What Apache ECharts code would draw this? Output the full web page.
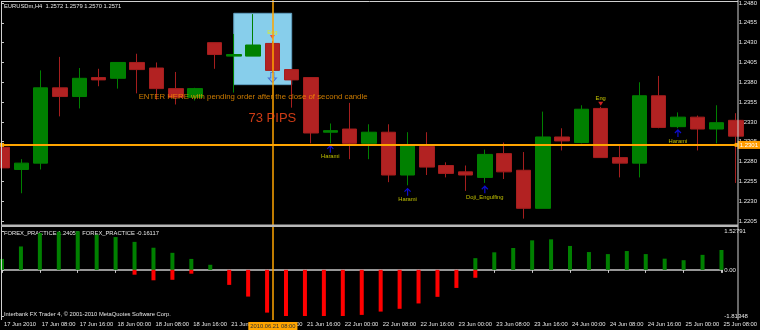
<!DOCTYPE html>
<html><head><meta charset="utf-8">
<script src="https://cdn.jsdelivr.net/npm/echarts@6/dist/echarts.min.js"></script>
<style>html,body{margin:0;padding:0;background:#000}#c{width:760px;height:330px}</style>
</head><body><div id="c"></div>
<script>
// ---------- data ----------
const symbolTitle = 'EURUSDm,H4  1.2572 1.2579 1.2570 1.2571';
const indicatorTitle = 'FOREX_PRACTICE 1.24052  FOREX_PRACTICE -0.16117';
const copyrightText = 'Interbank FX Trader 4, \u00a9 2001-2010 MetaQuotes Software Corp.';

// one label every second H4 bar
const timeLabels = ['17 Jun 2010','17 Jun 08:00','17 Jun 16:00','18 Jun 00:00','18 Jun 08:00','18 Jun 16:00',
  '21 Jun 00:00','21 Jun 08:00','21 Jun 16:00','22 Jun 00:00','22 Jun 08:00','22 Jun 16:00',
  '23 Jun 00:00','23 Jun 08:00','23 Jun 16:00','24 Jun 00:00','24 Jun 08:00','24 Jun 16:00',
  '25 Jun 00:00','25 Jun 08:00'];

const opens  = [1.2298,1.2270,1.2278,1.2373,1.2362,1.2386,1.2385,1.2405,1.2398,1.2372,1.2361,1.2430,1.2413,1.2413,1.2429,1.2396,1.2386,1.2317,1.2321,1.2303,1.2317,1.2263,1.2299,1.2275,1.2267,1.2260,1.2290,1.2269,1.2221,1.2311,1.2304,1.2347,1.2285,1.2278,1.2363,1.2324,1.2336,1.2321,1.2332];
const closes = [1.2272,1.2278,1.2373,1.2362,1.2385,1.2383,1.2405,1.2396,1.2372,1.2361,1.2372,1.2415,1.2415,1.2427,1.2395,1.2383,1.2316,1.2319,1.2303,1.2317,1.2263,1.2300,1.2273,1.2265,1.2263,1.2289,1.2267,1.2221,1.2311,1.2306,1.2346,1.2285,1.2278,1.2363,1.2323,1.2336,1.2321,1.2329,1.2312];
const lows   = [1.2258,1.2240,1.2270,1.2337,1.2347,1.2375,1.2372,1.2366,1.2358,1.2352,1.2357,1.2397,1.2367,1.2413,1.2392,1.2348,1.2303,1.2303,1.2283,1.2283,1.2254,1.2250,1.2263,1.2260,1.2243,1.2253,1.2258,1.2208,1.2221,1.2294,1.2303,1.2285,1.2260,1.2260,1.2322,1.2322,1.2294,1.2303,1.2253];
const highs  = [1.2303,1.2283,1.2395,1.2412,1.2398,1.2397,1.2405,1.2416,1.2405,1.2393,1.2373,1.2430,1.2441,1.2466,1.2432,1.2396,1.2386,1.2328,1.2354,1.2327,1.2327,1.2317,1.2317,1.2279,1.2275,1.2295,1.2304,1.2292,1.2343,1.2322,1.2351,1.2349,1.2302,1.2380,1.2388,1.2342,1.2338,1.2351,1.2341];

// FOREX_PRACTICE histogram buffers
const histUp   = [0.43,0.92,1.45,1.50,1.52,1.38,1.29,1.10,0.87,0.67,0.43,0.20,
  0,0,0,0,0,0,0,0,0,0,0,0,0,
  0.46,0.69,0.86,1.16,1.20,0.94,0.70,0.62,0.74,0.62,0.44,0.38,0.59,0.78];
const histDown = [null,null,null,null,null,null,null,-0.04,-0.26,-0.24,0.0,null,
  -0.44,-0.90,-1.53,-1.81,-1.75,-1.81,-1.68,-1.62,-1.49,-1.38,-1.17,-0.91,-0.56,-0.16,
  null,null,null,null,null,null,null,null,null,null,null,null,null];

const priceMin = 1.2205, priceMax = 1.2480, priceStep = 0.0025;
const indMin = -1.81348, indMax = 1.52791;
const xMax = 38.04;                 // visible bar range
const bidPrice = 1.2301;
const crossBar = 14, crossLabel = '2010.06.21 08:00';
const boxBars = [12, 15], boxPrices = [1.2467, 1.2377];
const patternBars = [17, 21, 25, 35];
const patternPrices = [1.2296, 1.2242, 1.2245, 1.2316];
const patternNames = ['Harami', 'Harami', 'Doji_Engulfing', 'Harami'];
const engBars = [14, 31], engPrices = [1.2437, 1.2353];
const sellBars = [14], sellPrices = [1.2386];
const noteTexts = ['ENTER HERE with pending order after the close of second candle', '73 PIPS'];
const noteBars = [13, 14], notePrices = [1.2362, 1.2334];

// ---------- chart ----------
const FONT = 'Liberation Sans, Arial, sans-serif';
const TXT = '#e6e6e6';
const redBase = 0.15;
const noteStyles = [{color: '#ff9a00', fontSize: 7.8}, {color: '#ff4a1a', fontSize: 13}];

const candleData = opens.map((o, i) => [i, o, closes[i], lows[i], highs[i]]);
const chart = echarts.init(document.getElementById('c'));

const upArrow = 'path://M0,4 L4,0 L8,4 L7,5 L4.7,2.7 L4.7,9 L3.3,9 L3.3,2.7 L1,5 Z';
const downTri = 'path://M0,0 L8,0 L4,6 Z';
const hollowDown = 'path://M3,0 L7,0 L7,6 L10,6 L5,11 L0,6 L3,6 Z';

chart.setOption({
  backgroundColor: '#000000',
  animation: false,
  textStyle: {fontFamily: FONT},
  title: [
    {text: symbolTitle, left: 4, top: 3, padding: 0, z: 0, textStyle: {color: TXT, fontSize: 5.8, fontWeight: 'normal', fontFamily: FONT}},
    {text: indicatorTitle, left: 4, top: 230, padding: 0, z: 0, textStyle: {color: TXT, fontSize: 5.8, fontWeight: 'normal', fontFamily: FONT}},
    {text: copyrightText, left: 4, top: 311, padding: 0, z: 0, textStyle: {color: TXT, fontSize: 5.8, fontWeight: 'normal', fontFamily: FONT}}
  ],
  grid: [
    {left: 2, right: 22, top: 2, height: 219},
    {left: 2, right: 22, top: 231, height: 85},
    {left: 2, right: 22, top: 0, height: 320}
  ],
  xAxis: [
    {type: 'value', gridIndex: 0, min: 0, max: xMax, show: false},
    {type: 'value', gridIndex: 1, min: 0, max: xMax, interval: 2, offset: 3,
     axisLine: {show: true, lineStyle: {color: '#c8c8c8', width: 1.5}},
     axisTick: {show: true, length: 3, lineStyle: {color: '#c8c8c8'}},
     splitLine: {show: false},
     axisLabel: {show: true, showMinLabel: true, showMaxLabel: true, align: 'left', margin: 2, padding: [0, 0, 0, 2],
       color: TXT, fontSize: 5.8, fontFamily: FONT,
       formatter: v => (Math.abs(v - Math.round(v)) < 1e-6 && Math.round(v) % 2 === 0) ? (timeLabels[Math.round(v) / 2] || '') : ''}},
    {type: 'value', gridIndex: 2, min: 0, max: xMax, show: false}
  ],
  yAxis: [
    {type: 'value', gridIndex: 0, position: 'right', min: priceMin, max: priceMax, interval: priceStep,
     axisLine: {show: false}, splitLine: {show: false},
     axisTick: {show: true, length: 2, lineStyle: {color: '#c8c8c8'}},
     axisLabel: {show: true, showMinLabel: true, showMaxLabel: true, margin: 2, color: TXT, fontSize: 6, fontFamily: FONT,
       formatter: v => v.toFixed(4)}},
    {type: 'value', gridIndex: 1, position: 'right', min: indMin, max: indMax,
     axisLine: {show: false}, splitLine: {show: false},
     axisTick: {show: true, length: 2, customValues: [indMax, 0, indMin], lineStyle: {color: '#c8c8c8'}},
     axisLabel: {show: true, customValues: [indMax, 0, indMin], margin: 2, color: TXT, fontSize: 6, fontFamily: FONT,
       formatter: v => Math.abs(v) < 1e-9 ? '0.00' : v.toFixed(5)}},
    {type: 'value', gridIndex: 2, min: 0, max: 1, show: false}
  ],
  graphic: [
    {type: 'line', shape: {x1: 1, y1: 1.5, x2: 738, y2: 1.5}, style: {stroke: '#d0d0d0', lineWidth: 1}, z: 10},
    {type: 'line', shape: {x1: 1.5, y1: 1, x2: 1.5, y2: 320}, style: {stroke: '#d0d0d0', lineWidth: 1}, z: 10},
    {type: 'line', shape: {x1: 738, y1: 0, x2: 738, y2: 320}, style: {stroke: '#d0d0d0', lineWidth: 1}, z: 10},
    {type: 'rect', shape: {x: 1, y: 224.5, width: 737, height: 2.5}, style: {fill: '#b8b8b8'}, z: 10}
  ],
  series: [
    {
      type: 'candlestick', xAxisIndex: 0, yAxisIndex: 0, z: 2,
      data: candleData, barWidth: 15, clip: true,
      itemStyle: {color: '#008000', color0: '#b22222', borderColor: '#008000', borderColor0: '#a51e1e', borderWidth: 1},
      markArea: {
        silent: true, z: 1,
        label: {show: false},
        itemStyle: {color: '#87ceeb', opacity: 1, borderColor: '#5f9fc0', borderWidth: 1},
        data: [[{xAxis: boxBars[0], yAxis: boxPrices[0]}, {xAxis: boxBars[1], yAxis: boxPrices[1]}]]
      },
      markLine: {
        silent: true, symbol: ['rect', 'rect'], symbolSize: 4, precision: 4,
        lineStyle: {color: '#ffa500', width: 2, type: 'solid'},
        label: {show: true, position: 'end', distance: 1, formatter: () => bidPrice.toFixed(4),
          backgroundColor: '#ff9c00', color: '#ffffff', fontSize: 6, fontFamily: FONT, padding: [1, 2, 1, 2]},
        data: [{yAxis: bidPrice}]
      }
    },
    {
      type: 'scatter', xAxisIndex: 0, yAxisIndex: 0, z: 4,
      data: patternBars.map((b, i) => ({value: [b, patternPrices[i]], name: patternNames[i]})),
      symbol: upArrow, symbolSize: [7, 8], itemStyle: {color: '#1010ff'},
      label: {show: true, position: 'bottom', distance: 1, formatter: '{b}', color: '#e6e600', fontSize: 5.8, fontFamily: FONT}
    },
    {
      type: 'scatter', xAxisIndex: 0, yAxisIndex: 0, z: 4,
      data: engBars.map((b, i) => ({value: [b, engPrices[i]], name: 'Eng'})),
      symbol: downTri, symbolSize: [5, 4], itemStyle: {color: '#ff2a2a'},
      label: {show: true, position: 'top', distance: 0, formatter: '{b}', color: '#f0f000', fontSize: 5.8, fontFamily: FONT}
    },
    {
      type: 'scatter', xAxisIndex: 0, yAxisIndex: 0, z: 4,
      data: sellBars.map((b, i) => [b, sellPrices[i]]),
      symbol: hollowDown, symbolSize: [8, 10],
      itemStyle: {color: 'rgba(0,0,0,0)', borderColor: '#3b5bd0', borderWidth: 1}
    },
    {
      type: 'scatter', xAxisIndex: 0, yAxisIndex: 0, z: 5,
      data: noteTexts.map((t, i) => ({value: [noteBars[i], notePrices[i]], name: t,
        label: Object.assign({show: true, position: 'inside', formatter: '{b}', fontFamily: FONT}, noteStyles[i])})),
      symbolSize: 0
    },
    {
      type: 'bar', xAxisIndex: 1, yAxisIndex: 1, barWidth: 4, barGap: '-100%',
      data: histUp.map((v, i) => [i, v]), itemStyle: {color: '#008000'}
    },
    {
      type: 'bar', xAxisIndex: 1, yAxisIndex: 1, barWidth: 4, barGap: '-100%', stack: 'dn', stackStrategy: 'all',
      data: histDown.map((v, i) => [i, v == null ? null : redBase]), itemStyle: {color: 'rgba(0,0,0,0)'}
    },
    {
      type: 'bar', xAxisIndex: 1, yAxisIndex: 1, barWidth: 4, barGap: '-100%', stack: 'dn', stackStrategy: 'all',
      data: histDown.map((v, i) => [i, v == null ? null : v - redBase]), itemStyle: {color: '#ff0000'}
    },
    {
      type: 'scatter', xAxisIndex: 2, yAxisIndex: 2, z: 6, symbolSize: 0,
      data: [[crossBar, 0]],
      markLine: {
        silent: true, symbol: 'none',
        lineStyle: {color: '#ffa500', width: 1.5, type: 'solid'},
        label: {show: true, position: 'start', distance: 2, formatter: () => crossLabel,
          backgroundColor: '#ffa500', color: '#333333', fontSize: 5.8, fontFamily: FONT, padding: [1, 2, 1, 2]},
        data: [{xAxis: crossBar}]
      }
    }
  ]
});
</script></body></html>
